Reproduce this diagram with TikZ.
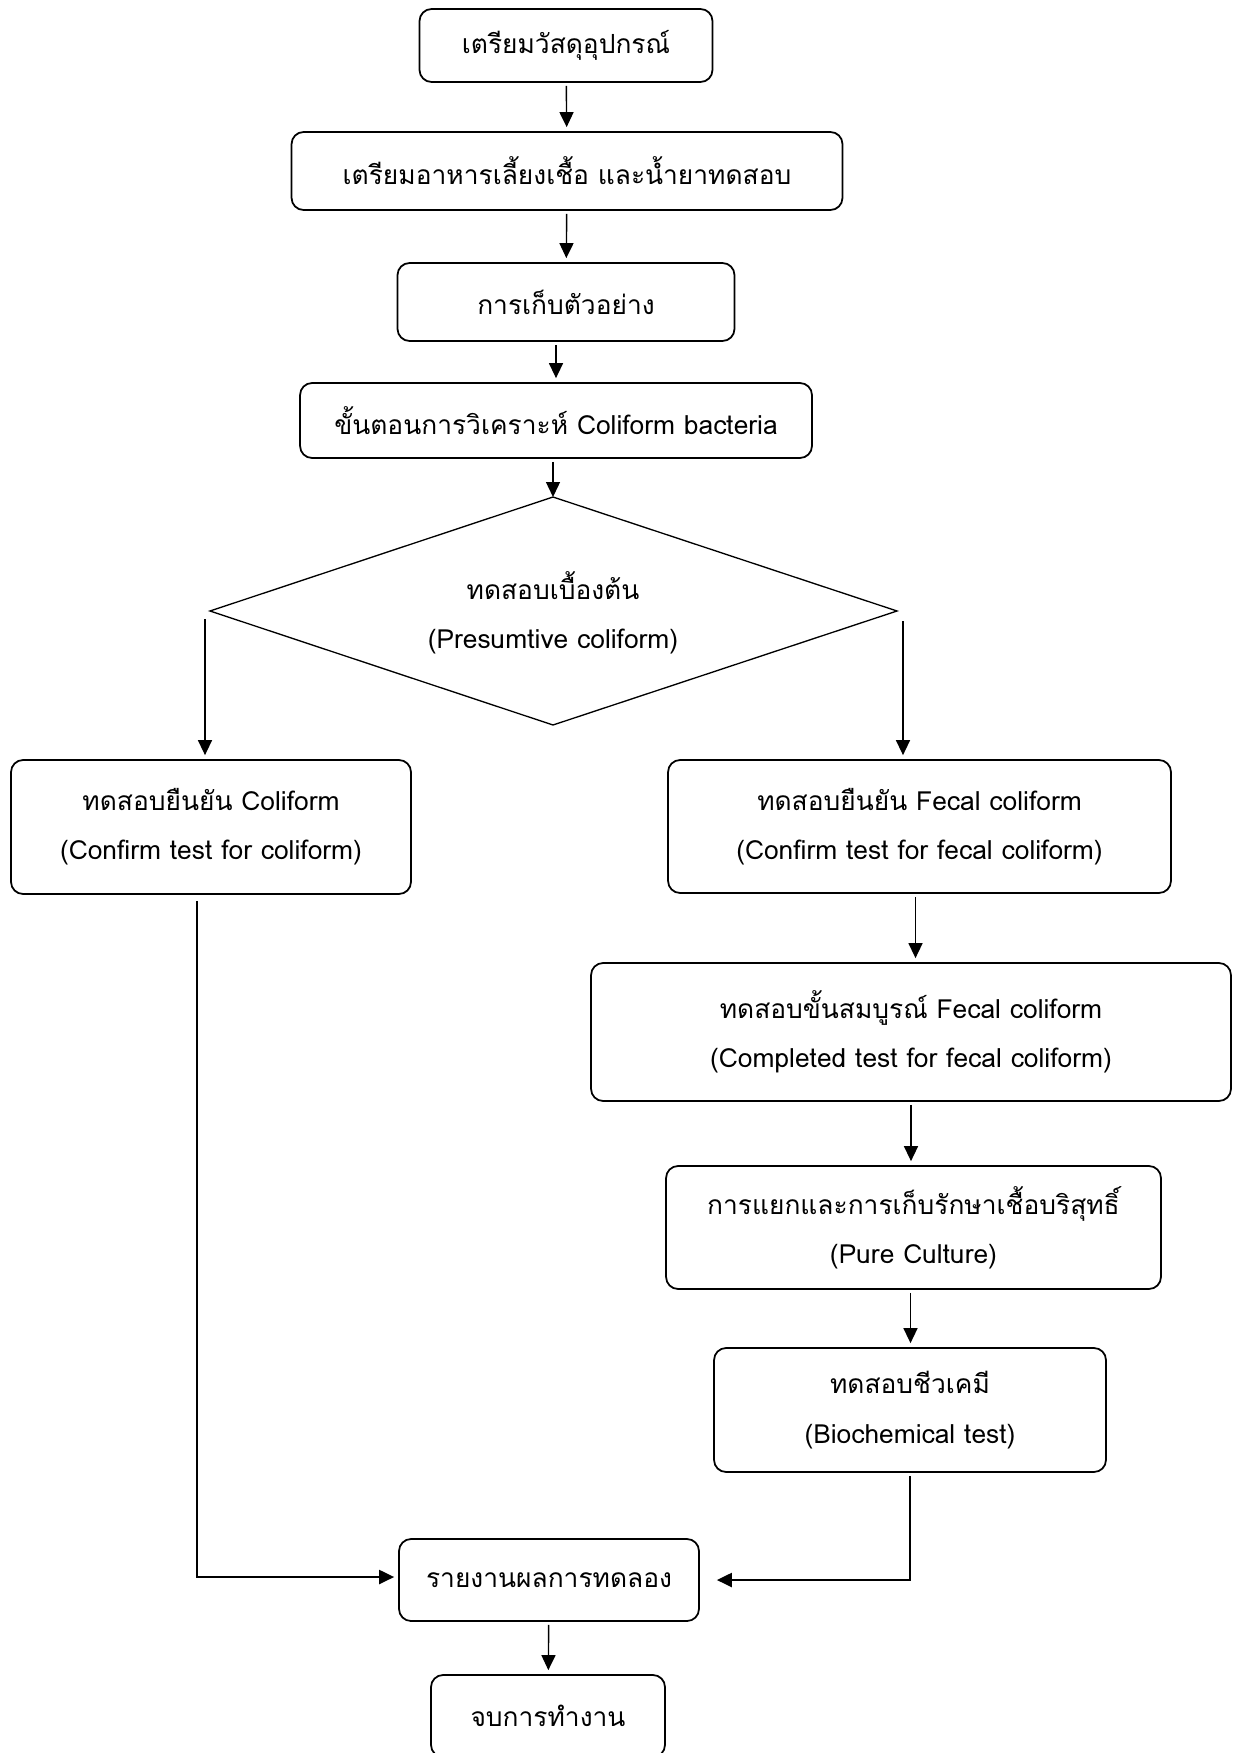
\documentclass[tikz,border=0pt]{standalone}
\usepackage{fontspec}
\newfontfamily\thaifont[Script=Thai]{Loma}
\usepackage{tikz}
\usetikzlibrary{arrows.meta}

\begin{document}
\begin{tikzpicture}[x=0.02cm, y=-0.02cm,
    font=\thaifont\fontsize{15}{28}\selectfont,
    box/.style={draw, line width=1pt, rounded corners=0.24cm, align=center, inner sep=0pt},
    arr/.style={-{Triangle[length=0.3cm,width=0.28cm]}, line width=0.8pt, shorten <=0.06cm, shorten >=0.08cm}]
    \useasboundingbox (0,0) rectangle (1245,1753);
    \node[box, minimum width=5.86cm, minimum height=1.46cm] (prep) at (566,45.5) {เตรียมวัสดุอุปกรณ์};
    \node[box, minimum width=11.02cm, minimum height=1.56cm] (media) at (567,171) {เตรียมอาหารเลี้ยงเชื้อ และน้ำยาทดสอบ};
    \node[box, minimum width=6.74cm, minimum height=1.56cm] (sample) at (566,302) {การเก็บตัวอย่าง};
    \node[box, minimum width=10.24cm, minimum height=1.5cm] (analyse) at (556,420.5) {ขั้นตอนการวิเคราะห์ Coliform bacteria};
    \coordinate (dtop) at (553,497);
    \coordinate (dleft) at (210,611);
    \coordinate (dright) at (897,611);
    \coordinate (dbot) at (553,725);
    \draw[line width=0.75pt] (dtop) -- (dright) -- (dbot) -- (dleft) -- cycle;
    \node[align=center, inner sep=0pt] (presum) at (553,613) {ทดสอบเบื้องต้น\\(Presumtive coliform)};
    \node[box, minimum width=8cm, minimum height=2.68cm] (confC) at (211,827) {ทดสอบยืนยัน Coliform\\(Confirm test for coliform)};
    \node[box, minimum width=10.06cm, minimum height=2.66cm] (confF) at (919.5,826.5) {ทดสอบยืนยัน Fecal coliform\\(Confirm test for fecal coliform)};
    \node[box, minimum width=12.8cm, minimum height=2.76cm] (compF) at (911,1032) {ทดสอบขั้นสมบูรณ์ Fecal coliform\\(Completed test for fecal coliform)};
    \node[box, minimum width=9.9cm, minimum height=2.46cm] (pure) at (913.5,1227.5) {การแยกและการเก็บรักษาเชื้อบริสุทธิ์\\(Pure Culture)};
    \node[box, minimum width=7.84cm, minimum height=2.48cm] (biochem) at (910,1410) {ทดสอบชีวเคมี\\(Biochemical test)};
    \node[box, minimum width=6cm, minimum height=1.64cm] (report) at (549,1580) {รายงานผลการทดลอง};
    \node[box, minimum width=4.68cm, minimum height=1.64cm] (finish) at (548,1716) {จบการทำงาน};
    \draw[arr] (prep) -- (media);
    \draw[arr] (media) -- (sample);
    \draw[arr] (sample.south -| analyse.north) -- (analyse.north);
    \draw[arr, shorten >=0pt] (analyse.south -| dtop) -- (dtop);
    \draw[arr] ([xshift=-0.1cm,yshift=-0.1cm]dleft) -- ([xshift=-0.1cm]dleft |- confC.north);
    \draw[arr] ([xshift=0.12cm,yshift=-0.14cm]dright) -- ([xshift=0.12cm]dright |- confF.north);
    \draw[arr] ([xshift=-0.08cm]confF.south) -- ([xshift=-0.08cm]confF.south |- compF.north);
    \draw[arr] (compF.south) -- (compF.south |- pure.north);
    \draw[arr] ([xshift=-0.06cm]pure.south) -- ([xshift=-0.06cm]pure.south |- biochem.north);
    \draw[arr] (report) -- (finish);
    \draw[arr, line width=1.2pt, shorten <=0.12cm] ([xshift=-0.28cm]confC.south) |- ([yshift=0.06cm]report.west);
    \draw[arr, line width=1.2pt] (biochem.south) |- ([xshift=0.26cm]report.east);
\end{tikzpicture}
\end{document}
